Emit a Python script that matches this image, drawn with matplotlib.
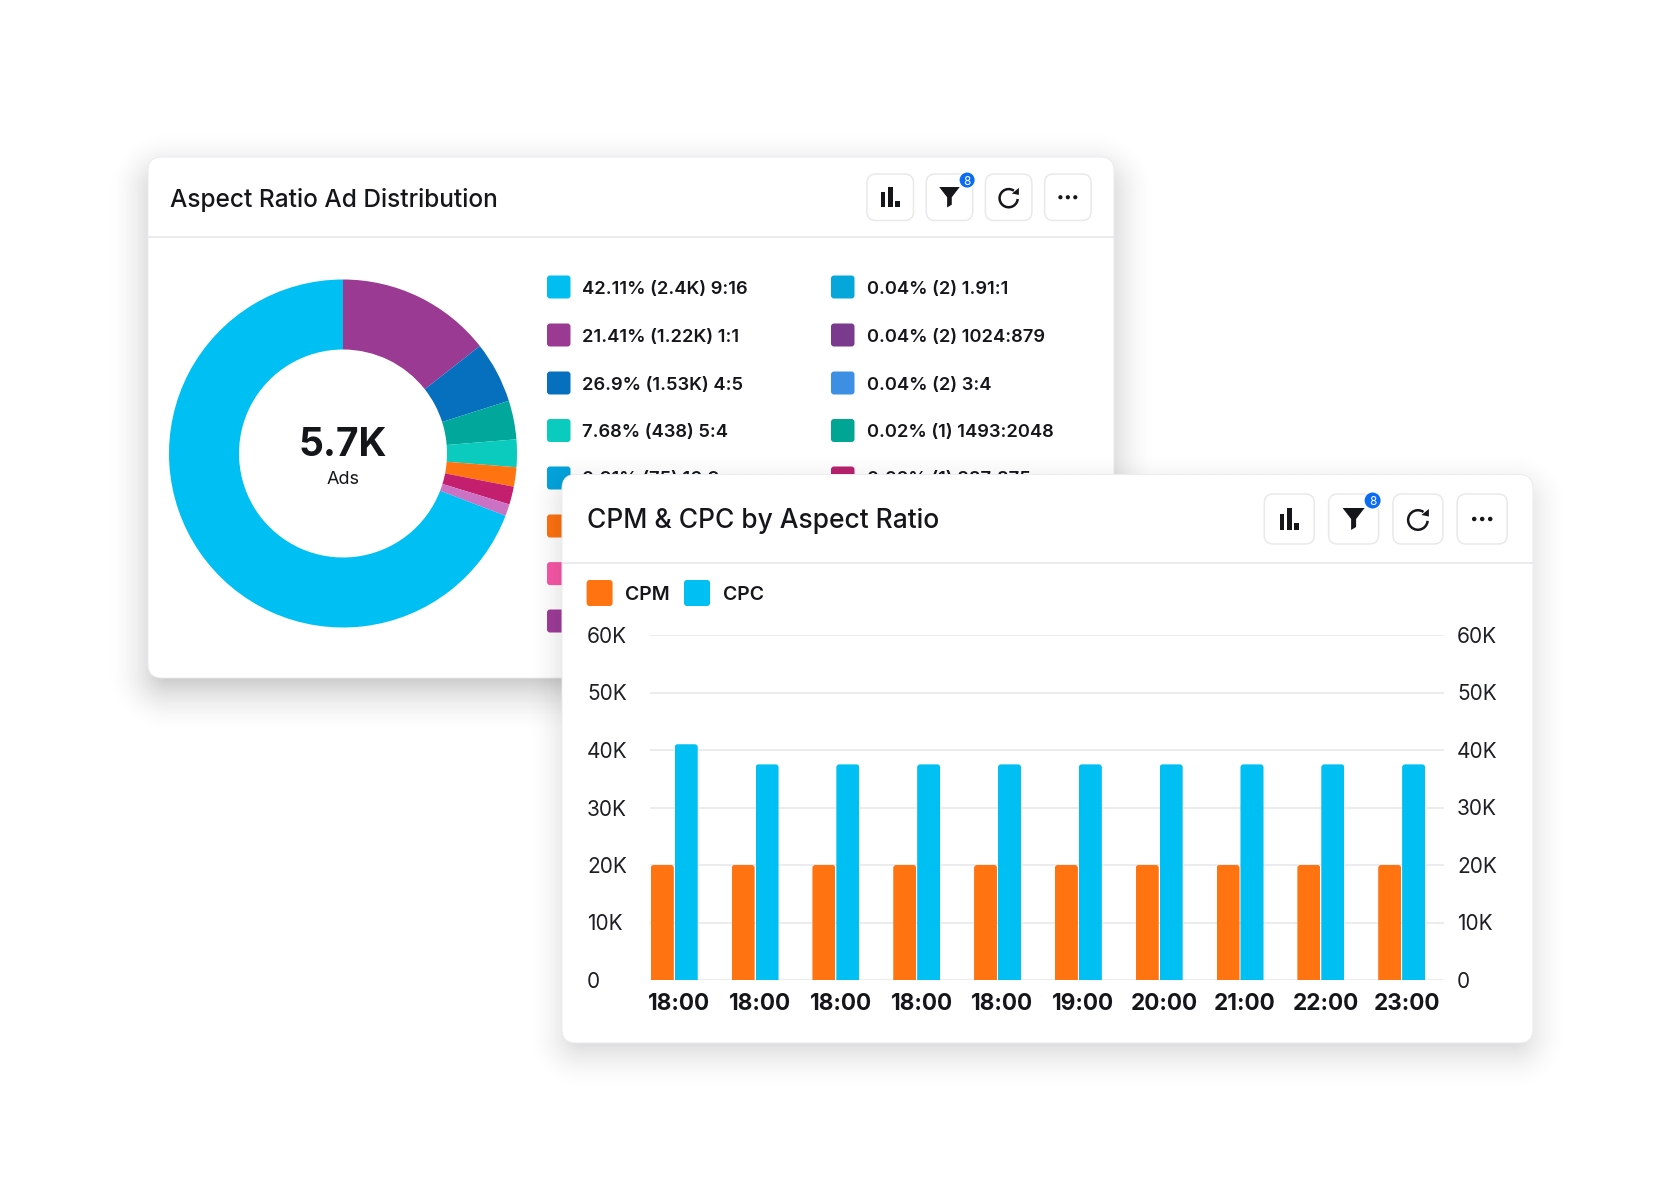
import numpy as np
import matplotlib
matplotlib.use("Agg")
import matplotlib.pyplot as plt
from matplotlib.patches import FancyBboxPatch, Polygon, Circle, Arc, Rectangle
from matplotlib.transforms import IdentityTransform

plt.rcParams['font.family'] = ['Inter', 'DejaVu Sans']

W, H = 1680, 1200

# donut
slice_values = [14.4, 5.7, 3.6, 2.56, 1.8, 1.67, 1.1, 69.17]
slice_colors = ['#9A3A92', '#0670BF', '#00A79A', '#0ACBBD', '#FF7410', '#C41F6F', '#CC72C5', '#00BFF3']

# legend of the donut, column by column
legend_left = ['42.11% (2.4K) 9:16', '21.41% (1.22K) 1:1', '26.9% (1.53K) 4:5', '7.68% (438) 5:4', '0.91% (75) 16:9']
legend_left_colors = ['#00BFF0', '#9B3A92', '#0670BF', '#0ACBBD', '#04A3DC', '#FF720F', '#F857A6', '#A03C9A']
legend_right = ['0.04% (2) 1.91:1', '0.04% (2) 1024:879', '0.04% (2) 3:4', '0.02% (1) 1493:2048', '0.02% (1) 887:875']
legend_right_colors = ['#05A6DA', '#7A3A8E', '#3D8FE3', '#00A594', '#B9216E']

# bars
hours = ['18:00', '18:00', '18:00', '18:00', '18:00', '19:00', '20:00', '21:00', '22:00', '23:00']
cpm = [20000, 20000, 20000, 20000, 20000, 20000, 20000, 20000, 20000, 20000]
cpc = [41000, 37500, 37500, 37500, 37500, 37500, 37500, 37500, 37500, 37500]
y_ticks = [0, 10000, 20000, 30000, 40000, 50000, 60000]
y_labels = ['0', '10K', '20K', '30K', '40K', '50K', '60K']

INK = '#15161a'
CYAN = '#00BFF3'
ORANGE = '#FF7410'


def px_axes(x0, y0, x1, y1, z):
    # axes placed by pixel box, y measured from the top of the image
    return fig.add_axes([x0 / W, 1 - y1 / H, (x1 - x0) / W, (y1 - y0) / H], zorder=z)


def shadow(ax, x0, y0, x1, y1, inset, spread, dy, strength):
    xs = np.arange(W) + 0.5
    ys = np.arange(H) + 0.5
    dx = np.maximum(np.maximum(x0 + inset - xs, xs - x1 + inset), 0)
    dyy = np.maximum(np.maximum(y0 + inset + dy - ys, ys - y1 + inset - dy), 0)
    d = np.sqrt(dx[None, :] ** 2 + dyy[:, None] ** 2)
    a = np.clip(1 - d / spread, 0, 1) ** 2 * strength
    img = np.zeros((H, W, 4))
    img[..., 3] = a
    ax.imshow(img, extent=[0, W, H, 0], interpolation='nearest', aspect='auto')


def card(ax, x0, y0, x1, y1, line_y):
    ax.add_patch(FancyBboxPatch((x0 + 14, y0 + 14), x1 - x0 - 28, y1 - y0 - 28,
                                boxstyle='round,pad=14,rounding_size=14', fc='white', ec='#ececef', lw=0.7))
    ax.plot([x0, x1], [line_y, line_y], color='#e6e6ea', lw=1.1, solid_capstyle='butt')


def icons(ax, x0, y0, s, step, badge_r):
    for i in range(4):
        bx = x0 + i * step
        ax.add_patch(FancyBboxPatch((bx + 9, y0 + 9), s - 18, s - 18, boxstyle='round,pad=9,rounding_size=9',
                                    fc='white', ec='#e9e9ec', lw=1.1))
    cy = y0 + s / 2
    # bar icon
    cx = x0 + s / 2
    for off, w, h in [(-0.19, 0.08, 0.33), (-0.05, 0.10, 0.44), (0.10, 0.10, 0.15)]:
        ax.add_patch(Rectangle((cx + off * s, cy + 0.22 * s - h * s), w * s, h * s, fc=INK, ec='none'))
    # funnel
    cx = x0 + step + s / 2
    pts = [(-.22, -.22), (.22, -.22), (.05, .0), (.05, .16), (-.05, .22), (-.05, .0)]
    ax.add_patch(Polygon([(cx + a * s, cy + b * s) for a, b in pts], fc=INK, ec='none'))
    # refresh
    cx = x0 + 2 * step + s / 2
    r = 0.39 * s
    ax.add_patch(Arc((cx, cy + .02 * s), r, r, theta1=5, theta2=305, color=INK, lw=1.8))
    ax.add_patch(Polygon([(cx + .22 * s, cy - .20 * s), (cx + .22 * s, cy - .05 * s), (cx + .07 * s, cy - .08 * s)],
                         fc=INK, ec='none'))
    # dots
    cx = x0 + 3 * step + s / 2
    for off in [-0.16, 0, 0.16]:
        ax.add_patch(Circle((cx + off * s, cy), 0.045 * s, fc=INK, ec='none'))
    # badge
    bx = x0 + step + s * 0.88
    by = y0 + s * 0.13
    ax.add_patch(Circle((bx, by), badge_r + 1.5, fc='white', ec='none'))
    ax.add_patch(Circle((bx, by), badge_r, fc='#0B6CF2', ec='none'))
    ax.text(bx, by, '8', color='white', fontsize=8.5, ha='center', va='center_baseline')


def round_tops(bars, r=3):
    for b in bars:
        ext = b.get_window_extent()
        clip = FancyBboxPatch((ext.x0 + r, ext.y0 - 10), ext.width - 2 * r, ext.height + 10 - r,
                              boxstyle=f'round,pad={r},rounding_size={r}', transform=IdentityTransform())
        b.set_clip_path(clip)


fig = plt.figure(figsize=(W / 100, H / 100), dpi=100, facecolor='white')

# back layer: first card, its donut and legend
back = px_axes(0, 0, W, H, 1)
back.axis('off')
shadow(back, 148, 157, 1114, 678, 20, 65, 14, 0.25)
back.set_xlim(0, W)
back.set_ylim(H, 0)
card(back, 148, 157, 1114, 678, 237)
back.text(170, 197, 'Aspect Ratio Ad Distribution', fontsize=17.6, fontweight='medium', color=INK, va='center_baseline')
icons(back, 867, 174, 46.5, 59.2, 7.5)

row_y = [287, 335, 383, 430.5, 478, 526, 573.6, 621]
for i, col in enumerate(legend_left_colors):
    back.add_patch(FancyBboxPatch((550, row_y[i] - 8.5), 17.5, 17, boxstyle='round,pad=3,rounding_size=3', fc=col, ec='none'))
for i, col in enumerate(legend_right_colors):
    back.add_patch(FancyBboxPatch((834, row_y[i] - 8.5), 17.5, 17, boxstyle='round,pad=3,rounding_size=3', fc=col, ec='none'))
for i, t in enumerate(legend_left):
    back.text(582.5, row_y[i], t, fontsize=13.2, fontweight='semibold', color=INK, va='center_baseline')
for i, t in enumerate(legend_right):
    back.text(867, row_y[i], t, fontsize=13.2, fontweight='semibold', color=INK, va='center_baseline')

donut = px_axes(343 - 174, 453.5 - 174, 343 + 174, 453.5 + 174, 2)
donut.pie(slice_values, colors=slice_colors, startangle=90, counterclock=False, radius=1,
          wedgeprops=dict(width=70 / 174, linewidth=0))
donut.set_xlim(-1, 1)
donut.set_ylim(-1, 1)
donut.text(0, 0.07, '5.7K', fontsize=28, fontweight='bold', color=INK, ha='center', va='center_baseline')
donut.text(0, -0.14, 'Ads', fontsize=13, color=INK, ha='center', va='center_baseline')

# front layer: second card
front = px_axes(0, 0, W, H, 3)
front.patch.set_alpha(0)
front.axis('off')
shadow(front, 562, 474, 1533, 1043, 20, 60, 12, 0.18)
front.set_xlim(0, W)
front.set_ylim(H, 0)
card(front, 562, 474.5, 1533, 1043, 563)
front.text(586.6, 518.5, 'CPM & CPC by Aspect Ratio', fontsize=19, fontweight='medium', color=INK, va='center_baseline')
icons(front, 1264.3, 494, 50, 64.3, 8)
front.add_patch(FancyBboxPatch((589.6, 583), 20, 20, boxstyle='round,pad=3,rounding_size=3', fc=ORANGE, ec='none'))
front.add_patch(FancyBboxPatch((687, 583), 20, 20, boxstyle='round,pad=3,rounding_size=3', fc=CYAN, ec='none'))
front.text(625.5, 593, 'CPM', fontsize=14, fontweight='semibold', color=INK, va='center_baseline')
front.text(723, 593, 'CPC', fontsize=14, fontweight='semibold', color=INK, va='center_baseline')

ax = px_axes(650, 635, 1443.7, 980, 4)
ax.patch.set_alpha(0)
x = np.arange(len(hours))
bars_cpm = ax.bar(x - 0.148, cpm, 0.285, color=ORANGE, zorder=3)
bars_cpc = ax.bar(x + 0.148, cpc, 0.285, color=CYAN, zorder=3)
ax.set_xlim(-0.30, 9.52)
ax.set_ylim(0, 60000)
ax.set_xticks(x + 0.06)
ax.set_xticklabels(hours, fontsize=16.2, fontweight='bold', color=INK)
ax.set_yticks(y_ticks)
ax.set_yticklabels(y_labels, fontsize=15, color='#1e1f24', ha='left')
ax.tick_params(axis='x', length=0, pad=9)
ax.tick_params(axis='y', length=0, pad=45.4)
ax.grid(axis='y', color='#e7e7ea', lw=1.1, zorder=0)
ax.set_axisbelow(True)
for s in ax.spines.values():
    s.set_visible(False)
round_tops(bars_cpm)
round_tops(bars_cpc)

ax2 = ax.twinx()
ax2.set_ylim(0, 60000)
ax2.set_yticks(y_ticks)
ax2.set_yticklabels(y_labels, fontsize=15, color='#1e1f24')
ax2.tick_params(axis='y', length=0, pad=9.6)
for s in ax2.spines.values():
    s.set_visible(False)

fig.savefig('out.png', dpi=100)
